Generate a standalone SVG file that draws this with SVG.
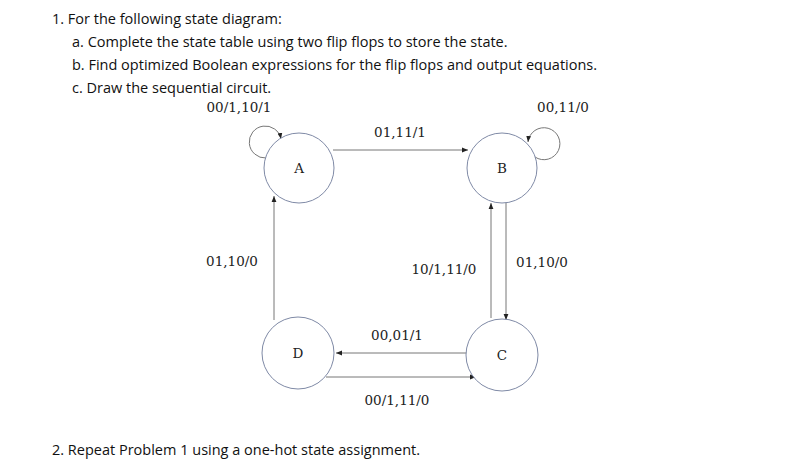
<svg xmlns="http://www.w3.org/2000/svg" width="790" height="468" viewBox="0 0 790 468">
<style>
.h{font-family:"Open Sans","Liberation Sans",sans-serif;font-size:14.5px;fill:#111}
.l{font-family:"DejaVu Serif","Liberation Serif",serif;font-size:13.5px;fill:#222;text-anchor:middle}
.n{fill:#fff;stroke:#7f8aa6;stroke-width:1}
.c{fill:none;stroke:#777;stroke-width:1;marker-end:url(#a)}
</style>
<defs><marker id="a" viewBox="0 0 10 10" refX="10" refY="5" markerWidth="6" markerHeight="6" orient="auto"><path d="M0,1 L10,5 L0,9z" fill="#222"/></marker></defs>
<rect width="790" height="468" fill="#fff"/>
<text class="h" x="52" y="24">1.  For the following state diagram:</text>
<text class="h" x="72" y="47">a. Complete the state table using two flip flops to store the state.</text>
<text class="h" x="72" y="70">b. Find optimized Boolean expressions for the flip flops and output equations.</text>
<text class="h" x="72" y="93">c. Draw the sequential circuit.</text>
<text class="h" x="52" y="455">2.  Repeat Problem 1 using a one-hot state assignment.</text>
<g id="connectors">
<path class="c" d="M266,158 A16,16 0 1 1 281,139"/>
<path class="c" d="M535,157 A16,16 0 1 0 528,142"/>
<path class="c" d="M333,150 L468,150"/>
<path class="c" d="M274,320 L274,196"/>
<path class="c" d="M506,201 L506,320"/>
<path class="c" d="M491,318 L491,203"/>
<path class="c" d="M468,353 L336,353"/>
<path class="c" d="M326,377 L476,377"/>
</g>
<g id="A"><circle class="n" cx="299" cy="168" r="35"/><text class="l" x="299" y="173">A</text></g>
<g id="B"><circle class="n" cx="502" cy="168" r="35"/><text class="l" x="502" y="173">B</text></g>
<g id="D"><circle class="n" cx="298" cy="353" r="36"/><text class="l" x="298" y="358">D</text></g>
<g id="C"><circle class="n" cx="502" cy="355" r="36"/><text class="l" x="502" y="360">C</text></g>
<g id="labels">
<text class="l" x="239" y="112">00/1,10/1</text>
<text class="l" x="400" y="137">01,11/1</text>
<text class="l" x="563" y="112">00,11/0</text>
<text class="l" x="232" y="266">01,10/0</text>
<text class="l" x="444" y="274">10/1,11/0</text>
<text class="l" x="542" y="267">01,10/0</text>
<text class="l" x="397" y="340">00,01/1</text>
<text class="l" x="397" y="405">00/1,11/0</text>
</g>
</svg>
